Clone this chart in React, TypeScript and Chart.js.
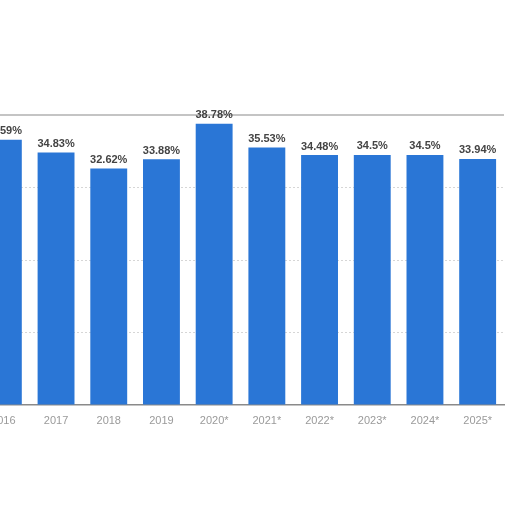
import React, { useEffect, useRef } from "react";
import { Chart, registerables } from "chart.js";

Chart.register(...registerables);

const categories = ["2016", "2017", "2018", "2019", "2020*", "2021*", "2022*", "2023*", "2024*", "2025*"];
const values = [36.59, 34.83, 32.62, 33.88, 38.78, 35.53, 34.48, 34.5, 34.5, 33.94];
const yTicks = [0, 10, 20, 30, 40];

const valueLabels = {
  id: "valueLabels",
  afterDatasetsDraw(chart: any) {
    const ctx = chart.ctx;
    const meta = chart.getDatasetMeta(0);
    ctx.save();
    ctx.font = "bold 11px 'Liberation Sans', Arial, sans-serif";
    ctx.fillStyle = "#444444";
    ctx.textAlign = "center";
    ctx.textBaseline = "bottom";
    meta.data.forEach((bar: any, i: number) => {
      ctx.fillText(values[i] + "%", bar.x, bar.y - 3);
    });
    ctx.restore();
  },
};

export default function App() {
  const ref = useRef<HTMLCanvasElement>(null);
  useEffect(() => {
    if (!ref.current) return;
    const chart = new Chart(ref.current, {
      type: "bar",
      data: {
        labels: categories,
        datasets: [
          {
            data: values,
            backgroundColor: "#2a76d6",
            categoryPercentage: 1,
            barPercentage: 0.7,
          },
        ],
      },
      options: {
        responsive: false,
        animation: false,
        layout: { padding: { top: 115, right: 8, left: 0, bottom: 0 } },
        plugins: { legend: { display: false }, tooltip: { enabled: false } },
        scales: {
          x: {
            grid: { display: false },
            border: { display: true, color: "#8a8a8a", width: 1.5 },
            ticks: {
              color: "#9a9a9a",
              padding: 1,
              font: { size: 11, family: "'Liberation Sans', Arial, sans-serif" },
              maxRotation: 0,
              autoSkip: false,
            },
            afterFit: (s: any) => {
              s.height = 107;
            },
          },
          y: {
            min: 0,
            max: 40,
            afterBuildTicks: (s: any) => {
              s.ticks = yTicks.map((v) => ({ value: v }));
            },
            ticks: { display: false },
            border: { display: false, dash: (c: any) => (c.tick && c.tick.value === 40 ? [] : [2, 2]) },
            grid: {
              drawTicks: false,
              color: (c: any) => (c.tick && c.tick.value === 40 ? "#c4c4c4" : c.tick && c.tick.value === 0 ? "rgba(0,0,0,0)" : "#d6d6d6"),
              lineWidth: (c: any) => (c.tick && c.tick.value === 40 ? 2 : 1),
            },
            afterFit: (s: any) => {
              s.width = 0;
            },
          },
        },
      },
      plugins: [valueLabels],
    });
    return () => chart.destroy();
  }, []);
  return (
    <div style={{ position: "fixed", left: 0, top: 0, width: 512, height: 512, overflow: "hidden", background: "#fff" }}>
      <canvas ref={ref} width={535} height={512} style={{ position: "absolute", left: -23, top: 0, width: 535, height: 512 }} />
    </div>
  );
}
